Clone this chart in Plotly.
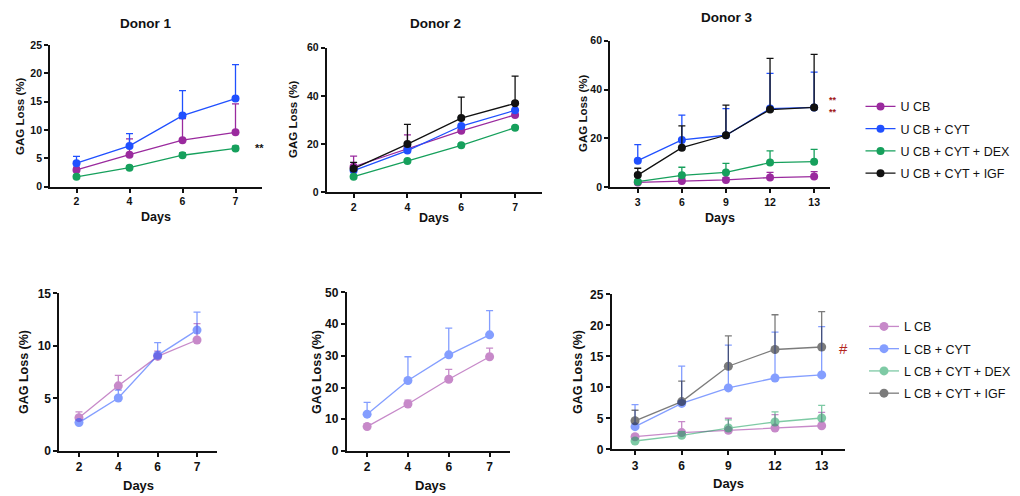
import plotly.graph_objects as go

# ---------------- data ----------------
days_short = ["2", "4", "6", "7"]
days_long = ["3", "6", "9", "12", "13"]

names_top = ["U CB", "U CB + CYT", "U CB + CYT + DEX", "U CB + CYT + IGF"]
names_bot = ["L CB", "L CB + CYT", "L CB + CYT + DEX", "L CB + CYT + IGF"]

# Donor 1, unloaded (mean, upper SD)
d1_u_cb = [2.95, 5.65, 8.2, 9.6]
d1_u_cb_err = [0.5, 2.8, 3.8, 5.0]
d1_u_cyt = [4.15, 7.2, 12.55, 15.55]
d1_u_cyt_err = [1.2, 2.15, 4.4, 6.0]
d1_u_dex = [1.75, 3.35, 5.55, 6.75]
d1_u_dex_err = [0.3, 0.3, 0.4, 0.4]

# Donor 2, unloaded
d2_u_cb = [10.6, 18.2, 25.5, 32.1]
d2_u_cb_err = [4.4, 5.6, 1.5, 2.0]
d2_u_cyt = [9.0, 17.3, 27.5, 34.0]
d2_u_cyt_err = [1.5, 1.5, 3.5, 3.5]
d2_u_dex = [6.5, 13.0, 19.5, 26.8]
d2_u_dex_err = [0.5, 0.5, 0.5, 0.5]
d2_u_igf = [9.8, 20.0, 30.8, 36.9]
d2_u_igf_err = [2.6, 8.2, 8.7, 11.3]

# Donor 3, unloaded
d3_u_cb = [2.0, 2.6, 3.0, 4.0, 4.4]
d3_u_cb_err = [0.8, 1.0, 1.0, 2.1, 2.0]
d3_u_cyt = [10.9, 19.4, 21.3, 32.2, 32.7]
d3_u_cyt_err = [6.6, 10.1, 10.9, 14.4, 14.4]
d3_u_dex = [2.3, 4.9, 6.1, 10.1, 10.5]
d3_u_dex_err = [0.5, 3.3, 3.7, 4.8, 5.0]
d3_u_igf = [5.0, 16.2, 21.3, 31.8, 32.7]
d3_u_igf_err = [2.8, 8.9, 12.3, 21.0, 21.7]

# Donor 1, loaded
d1_l_cb = [3.17, 6.2, 9.0, 10.56]
d1_l_cb_err = [0.55, 1.0, 0.5, 1.55]
d1_l_cyt = [2.7, 5.04, 9.1, 11.5]
d1_l_cyt_err = [0.2, 0.75, 1.2, 1.7]

# Donor 2, loaded
d2_l_cb = [7.7, 14.8, 22.6, 29.7]
d2_l_cb_err = [0.9, 1.2, 3.1, 2.7]
d2_l_cyt = [11.6, 22.2, 30.3, 36.6]
d2_l_cyt_err = [3.7, 7.5, 8.4, 7.6]

# Donor 3, loaded
d3_l_cb = [2.03, 2.7, 3.06, 3.43, 3.8]
d3_l_cb_err = [0.3, 1.75, 1.95, 2.15, 2.15]
d3_l_cyt = [3.65, 7.4, 9.9, 11.5, 12.0]
d3_l_cyt_err = [3.55, 6.0, 6.9, 7.4, 7.8]
d3_l_dex = [1.34, 2.26, 3.43, 4.4, 5.05]
d3_l_dex_err = [0.3, 0.6, 1.3, 1.65, 2.05]
d3_l_igf = [4.6, 7.7, 13.4, 16.1, 16.5]
d3_l_igf_err = [1.7, 3.3, 4.9, 5.6, 5.7]

# ---------------- styling ----------------
W, H = 1020, 496
FONT = "Liberation Sans, Arial, Helvetica, sans-serif"
colors = ["#9a2a9e", "#2050ff", "#16a05c", "#111111"]


def px(x):
    return x / W


def py(y):
    return 1 - y / H


fig = go.Figure()


def add_series(xs, ys, err, ci, name, axis_idx, legend, showlegend, opacity, msize):
    suffix = "" if axis_idx == 1 else str(axis_idx)
    fig.add_trace(go.Scatter(
        x=xs, y=ys, name=name, mode="lines+markers",
        xaxis="x" + suffix, yaxis="y" + suffix,
        line=dict(color=colors[ci], width=1.3),
        marker=dict(color=colors[ci], size=msize),
        error_y=dict(type="data", array=err, arrayminus=[0] * len(err),
                     symmetric=False, color=colors[ci], thickness=1.3, width=3.5),
        opacity=opacity, legend=legend, showlegend=showlegend,
        legendgroup=legend + name,
    ))


# top row
add_series(days_short, d1_u_cb, d1_u_cb_err, 0, names_top[0], 1, "legend", False, 1, 8)
add_series(days_short, d1_u_cyt, d1_u_cyt_err, 1, names_top[1], 1, "legend", False, 1, 8)
add_series(days_short, d1_u_dex, d1_u_dex_err, 2, names_top[2], 1, "legend", False, 1, 8)

add_series(days_short, d2_u_cb, d2_u_cb_err, 0, names_top[0], 2, "legend", False, 1, 8)
add_series(days_short, d2_u_cyt, d2_u_cyt_err, 1, names_top[1], 2, "legend", False, 1, 8)
add_series(days_short, d2_u_dex, d2_u_dex_err, 2, names_top[2], 2, "legend", False, 1, 8)
add_series(days_short, d2_u_igf, d2_u_igf_err, 3, names_top[3], 2, "legend", False, 1, 8)

add_series(days_long, d3_u_cb, d3_u_cb_err, 0, names_top[0], 3, "legend", True, 1, 8)
add_series(days_long, d3_u_cyt, d3_u_cyt_err, 1, names_top[1], 3, "legend", True, 1, 8)
add_series(days_long, d3_u_dex, d3_u_dex_err, 2, names_top[2], 3, "legend", True, 1, 8)
add_series(days_long, d3_u_igf, d3_u_igf_err, 3, names_top[3], 3, "legend", True, 1, 8)

# bottom row
OP = 0.55
add_series(days_short, d1_l_cb, d1_l_cb_err, 0, names_bot[0], 4, "legend2", False, OP, 9)
add_series(days_short, d1_l_cyt, d1_l_cyt_err, 1, names_bot[1], 4, "legend2", False, OP, 9)

add_series(days_short, d2_l_cb, d2_l_cb_err, 0, names_bot[0], 5, "legend2", False, OP, 9)
add_series(days_short, d2_l_cyt, d2_l_cyt_err, 1, names_bot[1], 5, "legend2", False, OP, 9)

add_series(days_long, d3_l_cb, d3_l_cb_err, 0, names_bot[0], 6, "legend2", True, OP, 9)
add_series(days_long, d3_l_cyt, d3_l_cyt_err, 1, names_bot[1], 6, "legend2", True, OP, 9)
add_series(days_long, d3_l_dex, d3_l_dex_err, 2, names_bot[2], 6, "legend2", True, OP, 9)
add_series(days_long, d3_l_igf, d3_l_igf_err, 3, names_bot[3], 6, "legend2", True, OP, 9)

# panel geometry in pixels: (x0, x1, ytop, ybottom, yrange, xrange, tick font size, y ticks)
panels = [
    (50, 262, 45, 186.7, [0, 25], [-0.5, 3.5], 10.5, [0, 5, 10, 15, 20, 25]),
    (326.7, 542, 47.7, 192.3, [0, 60], [-0.5, 3.5], 10.5, [0, 20, 40, 60]),
    (610, 830, 40.7, 187.3, [0, 60], [-0.63, 4.36], 10.5, [0, 20, 40, 60]),
    (59.3, 216.7, 293.3, 451, [0, 15], [-0.5, 3.5], 12, [0, 5, 10, 15]),
    (346.7, 510, 292.3, 451, [0, 50], [-0.5, 3.5], 12, [0, 10, 20, 30, 40, 50]),
    (611.7, 845, 294.3, 449.3, [0, 25], [-0.5, 4.5], 12, [0, 5, 10, 15, 20, 25]),
]

layout = {}
for i, (x0, x1, yt, yb, yr, xr, fs, yt_vals) in enumerate(panels, start=1):
    s = "" if i == 1 else str(i)
    tickfont = dict(family=FONT, size=fs, color="#111", weight="bold")
    layout["xaxis" + s] = dict(
        domain=[px(x0), px(x1)], anchor="y" + s, type="category", range=xr,
        showline=True, linecolor="#111", linewidth=1.8, ticks="outside",
        ticklen=4, tickwidth=1.6, tickcolor="#111", showgrid=False,
        zeroline=False, tickfont=tickfont, fixedrange=True, automargin=False,
    )
    layout["yaxis" + s] = dict(
        domain=[py(yb), py(yt)], anchor="x" + s, range=yr,
        tickvals=yt_vals, showline=True, linecolor="#111", linewidth=1.8,
        ticks="outside", ticklen=4, tickwidth=1.6, tickcolor="#111",
        showgrid=False, zeroline=False, tickfont=tickfont, fixedrange=True,
        automargin=False,
    )

fig.update_layout(**layout)

ann = []


def text(x, y, t, size, bold=True, angle=0, color="#111"):
    ann.append(dict(
        x=px(x), y=py(y), xref="paper", yref="paper", text=t, showarrow=False,
        textangle=angle, xanchor="center", yanchor="middle",
        font=dict(family=FONT, size=size, color=color, weight="bold" if bold else "normal"),
    ))


# titles
text(145, 23, "Donor 1", 13.5)
text(435, 24, "Donor 2", 13.5)
text(726, 17, "Donor 3", 13.5)

# y-axis titles
text(20, 117, "GAG Loss (%)", 11.5, angle=-90)
text(293, 120, "GAG Loss (%)", 11.5, angle=-90)
text(583, 114, "GAG Loss (%)", 11.5, angle=-90)
text(24, 372, "GAG Loss (%)", 12.5, angle=-90)
text(317, 372, "GAG Loss (%)", 12.5, angle=-90)
text(578, 372, "GAG Loss (%)", 12.5, angle=-90)

# x-axis titles
text(156, 217, "Days", 12.5)
text(434, 218, "Days", 12.5)
text(720, 218, "Days", 12.5)
text(138, 485, "Days", 13)
text(430, 485, "Days", 13)
text(728, 483, "Days", 13)

# significance marks
text(259, 148, "**", 11)
text(833, 106, "**<br>**", 9, color="#a01818")
text(843, 348, "#", 15, bold=False, color="#b3261e")

fig.update_layout(
    width=W, height=H, autosize=False,
    margin=dict(l=0, r=0, t=0, b=0, pad=0, autoexpand=False),
    paper_bgcolor="white", plot_bgcolor="white",
    annotations=ann,
    font=dict(family=FONT, color="#111"),
    legend=dict(x=px(860.5), y=py(91.8), xanchor="left", yanchor="top",
                font=dict(family=FONT, size=12.5, color="#111"),
                bgcolor="rgba(0,0,0,0)", tracegroupgap=3),
    legend2=dict(x=px(864), y=py(311.8), xanchor="left", yanchor="top",
                 font=dict(family=FONT, size=12.5, color="#111"),
                 bgcolor="rgba(0,0,0,0)", tracegroupgap=3),
)

fig.write_html("out.html", config={"displayModeBar": False},
               post_script="document.body.style.margin='0';document.body.style.overflow='hidden';")
